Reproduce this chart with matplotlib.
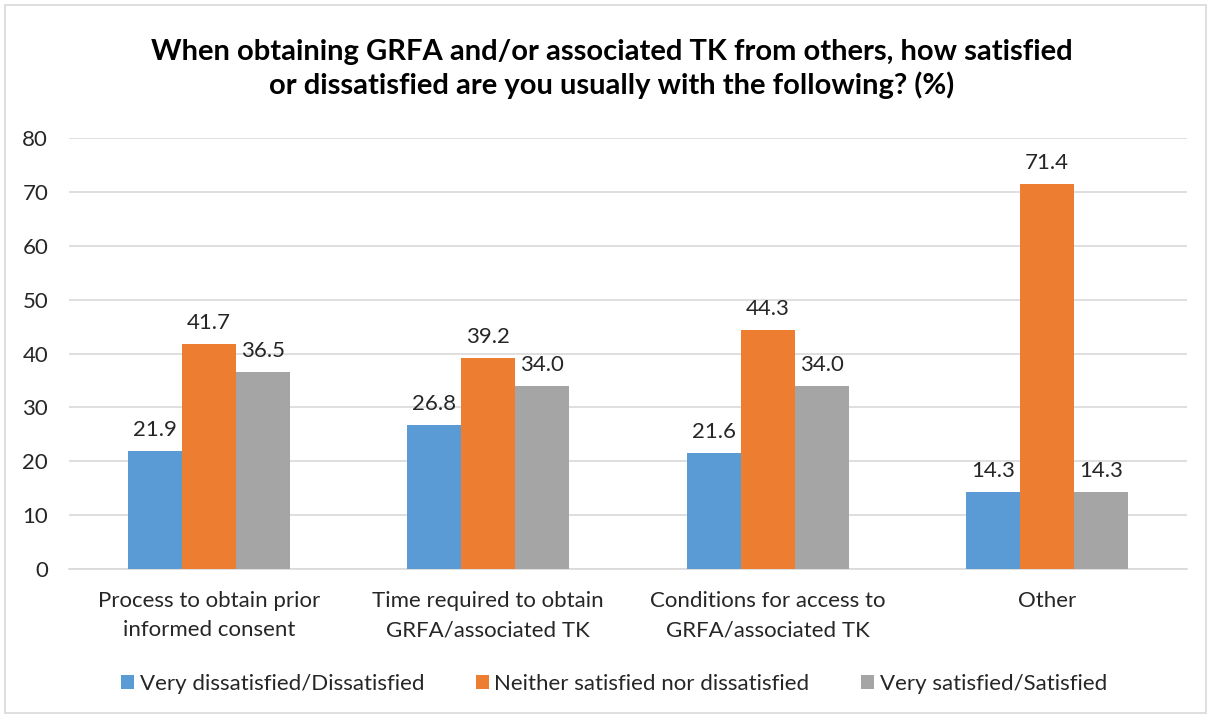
import numpy as np
import matplotlib
matplotlib.use('Agg')
import matplotlib.pyplot as plt
from matplotlib.patches import Rectangle

plt.rcParams['font.family'] = ['Lato', 'DejaVu Sans']

categories = ['Process to obtain prior\ninformed consent',
              'Time required to obtain\nGRFA/associated TK',
              'Conditions for access to\nGRFA/associated TK',
              'Other']
series_names = ['Very dissatisfied/Dissatisfied',
                'Neither satisfied nor dissatisfied',
                'Very satisfied/Satisfied']
dissatisfied = [21.9, 26.8, 21.6, 14.3]
neither = [41.7, 39.2, 44.3, 71.4]
satisfied = [36.5, 34.0, 34.0, 14.3]
colors = ['#5B9BD5', '#ED7D31', '#A5A5A5']

fig = plt.figure(figsize=(12.11, 7.18), dpi=100)
ax = fig.add_axes([0.057, 0.2075, 0.923, 0.6003])

# chart border
fig.patches.append(Rectangle((0.004, 0.007), 0.992, 0.986, transform=fig.transFigure,
                             fill=False, edgecolor='#D9D9D9', linewidth=1.2))

x = np.arange(len(categories))
w = 0.193
for i, (vals, name) in enumerate(zip([dissatisfied, neither, satisfied], series_names)):
    bars = ax.bar(x + (i - 1) * w, vals, w, color=colors[i], label=name, zorder=3)
    for b, v in zip(bars, vals):
        ax.annotate('%.1f' % v, (b.get_x() + b.get_width() / 2, v),
                    xytext=(0, 8), textcoords='offset points',
                    ha='center', va='bottom', fontsize=16, color='#262626')

ax.set_xlim(-0.5, len(categories) - 0.5)
ax.set_ylim(0, 80)
ax.set_yticks(range(0, 81, 10))
ax.yaxis.grid(True, color='#D9D9D9', linewidth=1.2, zorder=0)
ax.set_axisbelow(True)
for s in ['top', 'right', 'left']:
    ax.spines[s].set_visible(False)
ax.spines['bottom'].set_color('#D9D9D9')
ax.spines['bottom'].set_linewidth(1.2)
ax.tick_params(axis='both', length=0, labelsize=16, colors='#262626')
ax.tick_params(axis='y', pad=15)
ax.set_xticks(x)
ax.set_xticklabels(categories, linespacing=1.55)
ax.tick_params(axis='x', pad=16)

fig.text(0.505, 0.904, 'When obtaining GRFA and/or associated TK from others, how satisfied\n'
         'or dissatisfied are you usually with the following? (%)',
         ha='center', va='center', fontsize=21, fontweight='bold', linespacing=1.3,
         color='#000000')

fig.legend(loc='center', bbox_to_anchor=(0.507, 0.048), ncol=3, frameon=False,
           fontsize=16, handlelength=0.6, handleheight=0.6, handletextpad=0.25,
           columnspacing=2.3, labelcolor='#262626')

fig.savefig('out.png', dpi=100)
